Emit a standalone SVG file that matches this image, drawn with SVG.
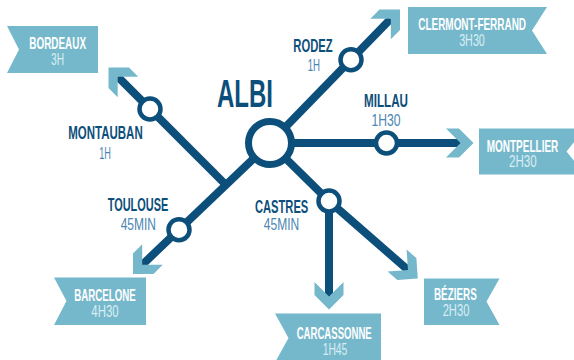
<svg xmlns="http://www.w3.org/2000/svg" width="574" height="360" viewBox="0 0 574 360">
<style>
.line{fill:none;stroke:#0d4f7b;stroke-width:8;stroke-linejoin:miter}
.chev{fill:#75b8cb}
.banner{fill:#75b8cb}
.st{fill:#fff;stroke:#0d4f7b;stroke-width:4.5}
.hub{fill:#fff;stroke:#0d4f7b;stroke-width:7}
.bt{font-family:"Liberation Sans",Arial,sans-serif;font-weight:bold;font-size:16.5px;fill:#fff}
.bs{font-family:"Liberation Sans",Arial,sans-serif;font-size:16px;fill:#d9eef4;text-anchor:middle}
.sn{font-family:"Liberation Sans",Arial,sans-serif;font-weight:bold;font-size:18px;fill:#0d4f7b}
.stt{font-family:"Liberation Sans",Arial,sans-serif;font-size:17px;fill:#4a86b1;text-anchor:middle}
.albi{font-family:"Liberation Sans",Arial,sans-serif;font-weight:bold;font-size:39px;fill:#0d4f7b}
</style>
<defs>
<path id="chev" d="M0,0 L-14.5,-14.5 L-27.5,-14.5 L-13,0 L-27.5,14.5 L-14.5,14.5 Z"/>
</defs>
<g id="connectors">
<path class="line" d="M270,143 L142.2,264.8"/>
<path class="line" d="M226,185 L117.7,76.7"/>
<path class="line" d="M270,143 L390.8,18.7"/>
<path class="line" d="M270,143 L461,143"/>
<path class="line" d="M270,143 L329,201 L408,270"/>
<path class="line" d="M329,201 L329,297"/>
<use href="#chev" class="chev" transform="translate(108.5,67.5) rotate(225)"/>
<use href="#chev" class="chev" transform="translate(400,9.5) rotate(-45)"/>
<use href="#chev" class="chev" transform="translate(473.5,143)"/>
<use href="#chev" class="chev" transform="translate(133,274) rotate(135)"/>
<use href="#chev" class="chev" transform="translate(329,309.5) rotate(90)"/>
<use href="#chev" class="chev" transform="translate(417.8,278.5) rotate(41)"/>
</g>
<g id="albi">
<circle class="hub" cx="270" cy="143" r="21.5"/>
<text class="albi" x="217" y="107" textLength="56" lengthAdjust="spacingAndGlyphs">ALBI</text>
</g>
<g id="montauban">
<circle class="st" cx="150" cy="109" r="10.5"/>
<text class="sn" x="68.3" y="139.3" textLength="74.4" lengthAdjust="spacingAndGlyphs">MONTAUBAN</text>
<text class="stt" x="105" y="159.3" textLength="11.7" lengthAdjust="spacingAndGlyphs">1H</text>
</g>
<g id="rodez">
<circle class="st" cx="351" cy="59.7" r="10.5"/>
<text class="sn" x="293.3" y="51.7" textLength="39.3" lengthAdjust="spacingAndGlyphs">RODEZ</text>
<text class="stt" x="313.8" y="70.7" textLength="12.3" lengthAdjust="spacingAndGlyphs">1H</text>
</g>
<g id="millau">
<circle class="st" cx="386.5" cy="143" r="10.5"/>
<text class="sn" x="364" y="107" textLength="44" lengthAdjust="spacingAndGlyphs">MILLAU</text>
<text class="stt" x="386" y="126" textLength="29" lengthAdjust="spacingAndGlyphs">1H30</text>
</g>
<g id="toulouse">
<circle class="st" cx="179" cy="229.7" r="10.5"/>
<text class="sn" x="107.7" y="210.7" textLength="60.6" lengthAdjust="spacingAndGlyphs">TOULOUSE</text>
<text class="stt" x="138.3" y="230" textLength="35.3" lengthAdjust="spacingAndGlyphs">45MIN</text>
</g>
<g id="castres">
<circle class="st" cx="329" cy="201" r="10.5"/>
<text class="sn" x="255" y="213.3" textLength="53.3" lengthAdjust="spacingAndGlyphs">CASTRES</text>
<text class="stt" x="281.5" y="230" textLength="35.3" lengthAdjust="spacingAndGlyphs">45MIN</text>
</g>
<g id="bordeaux">
<polygon class="banner" points="7,26 98,26 98,73 7,73 19,49.5"/>
<text class="bt" x="29.3" y="49" textLength="56.7" lengthAdjust="spacingAndGlyphs">BORDEAUX</text>
<text class="bs" x="57.5" y="65" textLength="13" lengthAdjust="spacingAndGlyphs">3H</text>
</g>
<g id="clermont-ferrand">
<polygon class="banner" points="408,7 547,7 532,30.5 547,54 408,54"/>
<text class="bt" x="418.3" y="30" textLength="107.7" lengthAdjust="spacingAndGlyphs">CLERMONT-FERRAND</text>
<text class="bs" x="472" y="46" textLength="25.7" lengthAdjust="spacingAndGlyphs">3H30</text>
</g>
<g id="montpellier">
<polygon class="banner" points="479,128.5 585,128.5 566.5,151.5 585,174.5 479,174.5"/>
<text class="bt" x="486.7" y="151.7" textLength="71.6" lengthAdjust="spacingAndGlyphs">MONTPELLIER</text>
<text class="bs" x="522.8" y="166.7" textLength="27.7" lengthAdjust="spacingAndGlyphs">2H30</text>
</g>
<g id="barcelone">
<polygon class="banner" points="54,277.5 146,277.5 146,325 54,325 66.5,301"/>
<text class="bt" x="74.3" y="300.7" textLength="61.4" lengthAdjust="spacingAndGlyphs">BARCELONE</text>
<text class="bs" x="105" y="316.7" textLength="27.3" lengthAdjust="spacingAndGlyphs">4H30</text>
</g>
<g id="carcassonne">
<polygon class="banner" points="275,313.5 381,313.5 381,362.5 275,362.5 288.5,338"/>
<text class="bt" x="296.7" y="339.3" textLength="75" lengthAdjust="spacingAndGlyphs">CARCASSONNE</text>
<text class="bs" x="335" y="355" textLength="24.7" lengthAdjust="spacingAndGlyphs">1H45</text>
</g>
<g id="beziers">
<polygon class="banner" points="424,278.5 499.5,278.5 486.5,301.5 499.5,325 424,325"/>
<text class="bt" x="434" y="300" textLength="42.7" lengthAdjust="spacingAndGlyphs">BÉZIERS</text>
<text class="bs" x="456" y="316" textLength="26.7" lengthAdjust="spacingAndGlyphs">2H30</text>
</g>
</svg>
